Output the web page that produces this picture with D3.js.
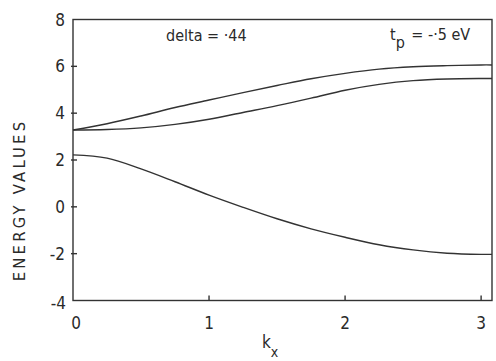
<!DOCTYPE html>
<html>
<head>
<meta charset="utf-8">
<script src="https://cdn.jsdelivr.net/npm/d3@7"></script>
<style>
    body { margin: 0; background: #fff; }
    svg text { font-family: "DejaVu Sans Condensed", "DejaVu Sans", sans-serif; fill: #2a2a2a; }
    .band { fill: none; stroke: #333; stroke-width: 1.4; }
    .frame { fill: none; stroke: #333; stroke-width: 1.4; }
    .tick { stroke: #333; stroke-width: 1.4; }
</style>
</head>
<body>
<script>
// ============================================================
// Band energies along k_x (delta = .44, tp = -.5 eV)
// ============================================================

// k_x sample points
var kx = [0, 0.25, 0.5, 0.75, 1.0, 1.25, 1.5, 1.75, 2.0, 2.25, 2.5, 2.75, 3.0, 3.08];

// three bands
var bandUpper  = [3.28, 3.55, 3.88, 4.24, 4.56, 4.88, 5.18, 5.47, 5.70, 5.88, 5.98, 6.03, 6.06, 6.06];
var bandMiddle = [3.28, 3.30, 3.37, 3.52, 3.74, 4.03, 4.32, 4.64, 4.98, 5.23, 5.39, 5.46, 5.48, 5.48];
var bandLower  = [2.22, 2.08, 1.62, 1.07, 0.50, -0.02, -0.51, -0.94, -1.30, -1.62, -1.84, -1.98, -2.03, -2.03];

// tick labels
var xTicks = [0, 1, 2, 3];
var yTicks = [-4, -2, 0, 2, 4, 6, 8];

var w = 496;
var h = 361;

var svg = d3.select("body").append("svg")
    .attr("width", w)
    .attr("height", h);

var x = d3.scaleLinear().domain([0, 3.08]).range([73, 492]);
var y = d3.scaleLinear().domain([-4, 8]).range([300.5, 19.5]);

// frame
svg.append("rect")
    .attr("class", "frame")
    .attr("x", x(0))
    .attr("y", y(8))
    .attr("width", x(3.08) - x(0))
    .attr("height", y(-4) - y(8));

// curves
var line = d3.line()
    .x(function(d) { return x(d[0]); })
    .y(function(d) { return y(d[1]); })
    .curve(d3.curveCatmullRom.alpha(0.5));

[bandUpper, bandMiddle, bandLower].forEach(function(b) {
    svg.append("path")
        .attr("class", "band")
        .attr("d", line(kx.map(function(k, i) { return [k, b[i]]; })));
});

// y ticks + labels
yTicks.forEach(function(t) {
    if (t > -4 && t < 8) {
        svg.append("line")
            .attr("class", "tick")
            .attr("x1", x(0) - 2)
            .attr("x2", x(0) + 4)
            .attr("y1", y(t))
            .attr("y2", y(t));
    }
    svg.append("text")
        .attr("x", t === -4 ? 66 : 65)
        .attr("y", y(t) + 6 + (t === -4 ? 2 : 0))
        .attr("text-anchor", "end")
        .style("font-size", "17px")
        .text(t < 0 ? "-" + Math.abs(t) : t);
});

// x ticks + labels
xTicks.forEach(function(t) {
    if (t > 0) {
        svg.append("line")
            .attr("class", "tick")
            .attr("x1", x(t))
            .attr("x2", x(t))
            .attr("y1", y(-4) - 5)
            .attr("y2", y(-4));
    }
    svg.append("text")
        .attr("x", x(t) + (t === 0 ? 3 : 0))
        .attr("y", 329)
        .attr("text-anchor", "middle")
        .style("font-size", "17px")
        .text(t);
});

// axis titles
var kl = svg.append("text")
    .attr("x", 262)
    .attr("y", 348)
    .style("font-size", "17px");
kl.append("tspan").text("k");
kl.append("tspan").attr("dy", 9).style("font-size", "14px").text("x");

svg.append("text")
    .attr("transform", "translate(25,200) rotate(-90)")
    .attr("x", 0)
    .attr("text-anchor", "middle")
    .style("font-size", "16.5px")
    .style("letter-spacing", "3.2px")
    .text("ENERGY  VALUES");

// annotations
svg.append("text")
    .attr("x", 166)
    .attr("y", 41)
    .style("font-size", "16px")
    .text("delta = ·44");

var tp = svg.append("text")
    .attr("x", 390)
    .attr("y", 40)
    .style("font-size", "16px");
tp.append("tspan").text("t");
tp.append("tspan").attr("dy", 8).text("p");
tp.append("tspan").attr("dy", -8).attr("dx", 2).text(" = -·5 eV");
</script>
</body>
</html>
